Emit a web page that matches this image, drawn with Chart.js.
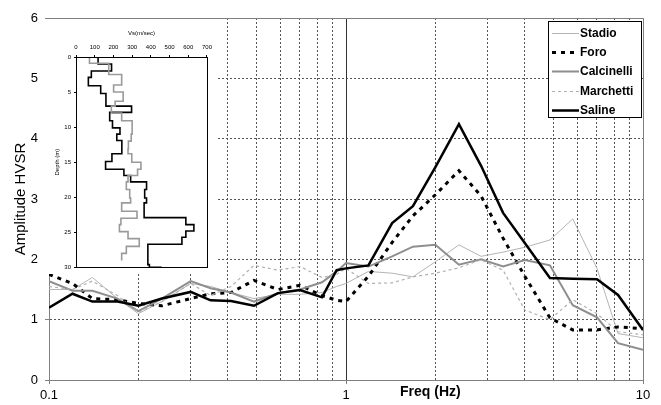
<!DOCTYPE html>
<html>
<head>
<meta charset="utf-8">
<title>HVSR</title>
<script src="https://cdn.jsdelivr.net/npm/chart.js@4.4.1/dist/chart.umd.min.js"></script>
<style>
  html, body { margin: 0; padding: 0; background: #fff; }
  #wrap { position: relative; width: 661px; height: 405px; overflow: hidden; }
  #main { position: absolute; left: 0; top: 0; }
  #inset { position: absolute; left: 45px; top: 19px; background: #fff; }
  #xtitle {
    position: absolute; left: 400px; top: 383px;
    font: bold 14px "Liberation Sans", Arial, sans-serif; color: #000;
  }
</style>
</head>
<body>
<div id="wrap">
  <canvas id="main" width="661" height="405"></canvas>
  <canvas id="inset" width="171" height="255"></canvas>
  <div id="xtitle">Freq (Hz)</div>
</div>
<script>
// ── HVSR curves (amplitude vs frequency) ──────────────────────────────────────

const FREQ_HZ    = [0.1, 0.12, 0.14, 0.17, 0.2, 0.24, 0.3, 0.35, 0.41, 0.49, 0.59, 0.7, 0.83, 0.93,
                    1.0, 1.19, 1.43, 1.68, 2.0, 2.4, 2.85, 3.38, 4.0, 4.86, 5.8, 7.0, 8.24, 10];
const STADIO     = [1.5, 1.5, 1.7, 1.35, 1.1, 1.3, 1.6, 1.55, 1.45, 1.35, 1.42, 1.42, 1.45, 1.55,
                    1.6, 1.8, 1.77, 1.71, 1.96, 2.24, 2.05, 2.12, 2.2, 2.32, 2.67, 1.85, 0.77, 0.7];
const FORO       = [1.75, 1.6, 1.35, 1.33, 1.27, 1.23, 1.35, 1.43, 1.45, 1.65, 1.5, 1.57, 1.4, 1.32,
                    1.3, 1.72, 2.28, 2.72, 3.07, 3.47, 3.05, 2.35, 1.72, 1.03, 0.83, 0.83, 0.88, 0.85];
const CALCINELLI = [1.64, 1.48, 1.48, 1.35, 1.14, 1.35, 1.64, 1.52, 1.45, 1.3, 1.44, 1.5, 1.62, 1.8,
                    1.94, 1.88, 2.05, 2.21, 2.24, 1.91, 2.0, 1.88, 1.99, 1.9, 1.24, 1.04, 0.61, 0.5];
const MARCHETTI  = [1.55, 1.5, 1.64, 1.4, 1.12, 1.3, 1.6, 1.4, 1.55, 1.9, 1.82, 1.88, 1.7, 1.75,
                    1.85, 1.6, 1.61, 1.71, 1.77, 1.86, 1.99, 1.82, 1.16, 1.0, 1.33, 1.1, 0.8, 0.75];
const SALINE     = [1.2, 1.43, 1.3, 1.3, 1.23, 1.35, 1.46, 1.32, 1.31, 1.23, 1.44, 1.49, 1.37, 1.82,
                    1.85, 1.9, 2.6, 2.88, 3.53, 4.24, 3.55, 2.77, 2.27, 1.69, 1.68, 1.67, 1.41, 0.83];

const X_TICKS    = [0.1, 0.2, 0.3, 0.4, 0.5, 0.6, 0.7, 0.8, 0.9, 1, 2, 3, 4, 5, 6, 7, 8, 9, 10];
const X_LABELLED = [0.1, 1, 10];

// ── Vs profiles for the inset (layer top depth in m, Vs in m/s) ──────────────

const DEPTH_DARK = [0, 1, 2, 2.9, 4.1, 5.2, 7, 7.9, 9.1, 10.1, 11, 11.9, 13.8, 14.9, 16, 16.9, 17.8,
                    18.9, 20.1, 20.8, 22.9, 23.9, 24.8, 25.7, 26.7, 29.6, 30];
const VS_DARK    = [118, 190, 82, 66, 132, 160, 297, 180, 195, 235, 218, 245, 192, 158, 256, 292, 377,
                    367, 377, 364, 587, 630, 587, 566, 384, 392, 458];
const DEPTH_LIGHT = [0, 0.9, 2.5, 4, 5, 6.3, 7, 8, 9.1, 11, 12, 13.1, 13.8, 15, 16, 16.9, 17.8,
                     18.9, 20.1, 20.8, 22, 23, 23.9, 24.9, 25.9, 27, 28];
const VS_LIGHT    = [72, 175, 244, 201, 252, 209, 189, 244, 300, 295, 280, 278, 298, 347, 329, 278, 269,
                     287, 292, 244, 326, 240, 232, 278, 338, 269, 244];
const END_DARK  = 30;
const END_LIGHT = 29;

const FONT = '"Liberation Sans", Arial, sans-serif';
Chart.defaults.font.family = FONT;
Chart.defaults.color = "#000";

function series(values) {
  return values.map((y, i) => ({ x: FREQ_HZ[i], y }));
}

function profile(vs, top, bottom) {
  const pts = vs.map((v, i) => ({ x: v, y: top[i] }));
  pts.push({ x: vs[vs.length - 1], y: bottom });
  return pts;
}

// ── Plugins ──────────────────────────────────────────────────────────────────

// grey frame round the plot plus the solid reference line at 1 Hz
const plotFrame = {
  id: "plotFrame",
  beforeDatasetsDraw(chart) {
    const { ctx, chartArea: a } = chart;
    const x1 = Math.round(chart.scales.x.getPixelForValue(1)) + 0.5;
    ctx.save();
    ctx.strokeStyle = "#333";
    ctx.lineWidth = 1;
    ctx.beginPath();
    ctx.moveTo(x1, a.top);
    ctx.lineTo(x1, a.bottom);
    ctx.stroke();
    ctx.strokeStyle = "#808080";
    ctx.strokeRect(Math.round(a.left) + 0.5, Math.round(a.top) + 0.5,
                   Math.round(a.right - a.left), Math.round(a.bottom - a.top));
    ctx.restore();
  },
};

// boxed legend in the top right corner of the plot
const boxLegend = {
  id: "boxLegend",
  afterDraw(chart) {
    const ctx = chart.ctx;
    const x0 = 548, y0 = 21, w = 93, h = 96;
    ctx.save();
    ctx.fillStyle = "#fff";
    ctx.fillRect(x0, y0, w, h);
    ctx.strokeStyle = "#000";
    ctx.lineWidth = 1;
    ctx.strokeRect(x0 + 0.5, y0 + 0.5, w, h);
    chart.data.datasets.forEach((ds, i) => {
      const y = Math.round(y0 + 12 + i * 19.2) + 0.5;
      ctx.beginPath();
      ctx.setLineDash(ds.borderDash || []);
      ctx.strokeStyle = ds.borderColor;
      ctx.lineWidth = ds.borderWidth;
      ctx.moveTo(x0 + 4, y);
      ctx.lineTo(x0 + 31, y);
      ctx.stroke();
      ctx.setLineDash([]);
      ctx.fillStyle = "#000";
      ctx.font = `bold 12px ${FONT}`;
      ctx.textBaseline = "middle";
      ctx.fillText(ds.label, x0 + 32, y);
    });
    ctx.restore();
  },
};

const insetFrame = {
  id: "insetFrame",
  afterDatasetsDraw(chart) {
    const { ctx, chartArea: a } = chart;
    ctx.save();
    ctx.strokeStyle = "#000";
    ctx.lineWidth = 1;
    ctx.strokeRect(Math.round(a.left) + 0.5, Math.round(a.top) + 0.5,
                   Math.round(a.right - a.left), Math.round(a.bottom - a.top));
    ctx.restore();
  },
};

// ── Main chart ───────────────────────────────────────────────────────────────

const common = { pointRadius: 0, tension: 0, fill: false };

new Chart(document.getElementById("main"), {
  type: "line",
  data: {
    datasets: [
      { ...common, label: "Stadio",     data: series(STADIO),     borderColor: "#b4b4b4", borderWidth: 1,   order: 5 },
      { ...common, label: "Foro",       data: series(FORO),       borderColor: "#000",    borderWidth: 3,   borderDash: [4, 5], order: 4 },
      { ...common, label: "Calcinelli", data: series(CALCINELLI), borderColor: "#8e8e8e", borderWidth: 2,   order: 3 },
      { ...common, label: "Marchetti",  data: series(MARCHETTI),  borderColor: "#b0b0b0", borderWidth: 1.2, borderDash: [3, 3], order: 2 },
      { ...common, label: "Saline",     data: series(SALINE),     borderColor: "#000",    borderWidth: 2.5, order: 1 },
    ],
  },
  options: {
    responsive: false,
    animation: false,
    layout: { padding: { left: 0, right: 18, top: 18, bottom: 0 } },
    plugins: { legend: { display: false }, tooltip: { enabled: false } },
    scales: {
      x: {
        type: "logarithmic",
        min: 0.1,
        max: 10,
        afterBuildTicks: s => { s.ticks = X_TICKS.map(v => ({ value: v })); },
        afterFit: s => { s.height = 25; },
        ticks: {
          autoSkip: false,
          maxRotation: 0,
          padding: 4,
          font: { size: 13 },
          callback: v => (X_LABELLED.includes(v) ? String(v) : ""),
        },
        grid: {
          color: c => (c.tick && (c.tick.value === 0.1 || c.tick.value === 1 || c.tick.value === 10) ? "transparent" : "#555"),
          tickColor: c => (c.tick && X_LABELLED.includes(c.tick.value) ? "#808080" : "transparent"),
          tickLength: 4,
        },
        border: { color: "#808080", dash: [2, 2] },
      },
      y: {
        min: 0,
        max: 6,
        afterFit: s => { s.width = 49; },
        ticks: { stepSize: 1, padding: 7, font: { size: 13 } },
        grid: {
          color: c => (c.tick && (c.tick.value === 0 || c.tick.value === 6) ? "transparent" : "#555"),
          tickColor: "#808080",
          tickLength: 4,
        },
        border: { color: "#808080", dash: [2, 2] },
        title: {
          display: true,
          text: "Amplitude HVSR",
          font: { size: 15 },
          padding: { top: 12, bottom: 0 },
        },
      },
    },
  },
  plugins: [plotFrame, boxLegend],
});

// ── Inset: Vs profiles ───────────────────────────────────────────────────────

const stepLine = { showLine: true, stepped: "after", pointRadius: 0, fill: false, borderWidth: 1.6 };

new Chart(document.getElementById("inset"), {
  type: "scatter",
  data: {
    datasets: [
      { ...stepLine, data: profile(VS_LIGHT, DEPTH_LIGHT, END_LIGHT), borderColor: "#9a9a9a" },
      { ...stepLine, data: profile(VS_DARK, DEPTH_DARK, END_DARK), borderColor: "#000" },
    ],
  },
  options: {
    responsive: false,
    animation: false,
    layout: { padding: { left: 0, top: 0, right: 4, bottom: 5 } },
    plugins: { legend: { display: false }, tooltip: { enabled: false } },
    scales: {
      x: {
        type: "linear",
        position: "top",
        min: 0,
        max: 700,
        afterFit: s => { s.height = 38; },
        ticks: { stepSize: 100, padding: 4, maxRotation: 0, font: { size: 6 } },
        grid: { drawOnChartArea: false, tickLength: 2, color: "#000" },
        border: { color: "#000" },
        title: { display: true, text: "Vs(m/sec)", font: { size: 6 }, padding: { top: 11, bottom: 0 } },
      },
      y: {
        type: "linear",
        reverse: true,
        min: 0,
        max: 30,
        afterFit: s => { s.width = 31; },
        ticks: { stepSize: 5, padding: 3, font: { size: 6 } },
        grid: { drawOnChartArea: false, tickLength: 2, color: "#000" },
        border: { color: "#000" },
        title: { display: true, text: "Depth (m)", font: { size: 6 }, padding: { top: 9, bottom: 0 } },
      },
    },
  },
  plugins: [insetFrame],
});
</script>
</body>
</html>
